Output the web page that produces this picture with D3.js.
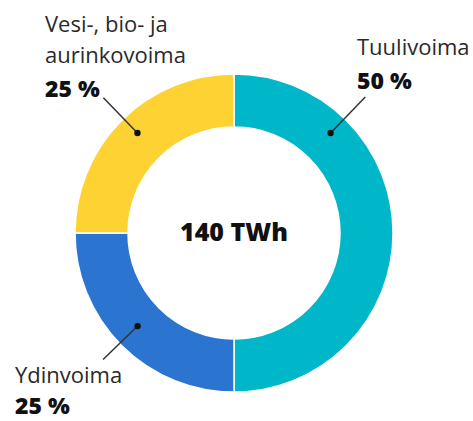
<!DOCTYPE html>
<html>
<head>
<meta charset="utf-8">
<script src="https://cdn.jsdelivr.net/npm/d3@7"></script>
<style>
  html, body { margin: 0; padding: 0; background: #fff; }
  svg { display: block; }
  text { font-family: "Open Sans", "Noto Sans", sans-serif; }
</style>
</head>
<body>
<svg id="chart" width="473" height="421"></svg>
<script>
// Electricity production shares
const categories = ["Tuulivoima", "Ydinvoima", "Vesi-, bio- ja aurinkovoima"];
const shares = [50, 25, 25];
const shareLabels = ["50 %", "25 %", "25 %"];
const totalLabel = "140 TWh";

const colors = ["#00b7ca", "#2b74cf", "#fdd232"];

const width = 473, height = 421;
const cx = 234, cy = 233;
const outerR = 159, innerR = 106;

const svg = d3.select("#chart");
const g = svg.append("g").attr("transform", `translate(${cx},${cy})`);

const pie = d3.pie().sort(null).value(d => d.value);
const arcs = pie(categories.map((c, i) => ({ name: c, value: shares[i] })));

const arc = d3.arc().innerRadius(innerR).outerRadius(outerR);

g.selectAll("path.slice")
  .data(arcs)
  .join("path")
  .attr("class", "slice")
  .attr("d", arc)
  .attr("fill", (d, i) => colors[i])
  .attr("stroke", "#fff")
  .attr("stroke-width", 1.5);

// Leader anchors: angle (deg, clockwise from 12 o'clock) and radius of the dot,
// plus label block layout for each slice.
const leaders = [
  { angle: 44, r: 139, len: 50, lines: ["Tuulivoima"], x: 357, y: 55, gap: 34 },
  { angle: 226, r: 134, len: 48, lines: ["Ydinvoima"], x: 15, y: 383, gap: 30.5 },
  { angle: 316, r: 139, len: 49, lines: ["Vesi-, bio- ja", "aurinkovoima"], x: 45, y: 32, gap: 34 }
];

const polar = (a, r) => {
  const t = a * Math.PI / 180;
  return [r * Math.sin(t), -r * Math.cos(t)];
};

leaders.forEach((l, i) => {
  const [dx, dy] = polar(l.angle, l.r);
  const [ex, ey] = polar(l.angle, l.r + l.len);
  g.append("line")
    .attr("x1", dx).attr("y1", dy)
    .attr("x2", ex).attr("y2", ey)
    .attr("stroke", "#333")
    .attr("stroke-width", 1.5);
  g.append("circle")
    .attr("cx", dx).attr("cy", dy)
    .attr("r", 3.2)
    .attr("fill", "#111");

  const lab = svg.append("g");
  l.lines.forEach((t, k) => {
    lab.append("text")
      .attr("x", l.x)
      .attr("y", l.y + k * 30.5)
      .attr("font-size", 22)
      .attr("fill", "#2a2a2a")
      .text(t);
  });
  lab.append("text")
    .attr("x", l.x)
    .attr("y", l.y + (l.lines.length - 1) * 30.5 + l.gap)
    .attr("font-size", 23)
    .attr("font-weight", 800)
    .attr("fill", "#111")
    .text(shareLabels[i]);
});

// Total in the middle of the ring
svg.append("text")
  .attr("x", cx)
  .attr("y", 241)
  .attr("text-anchor", "middle")
  .attr("font-size", 25)
  .attr("font-weight", 800)
  .attr("fill", "#111")
  .text(totalLabel);
</script>
</body>
</html>
